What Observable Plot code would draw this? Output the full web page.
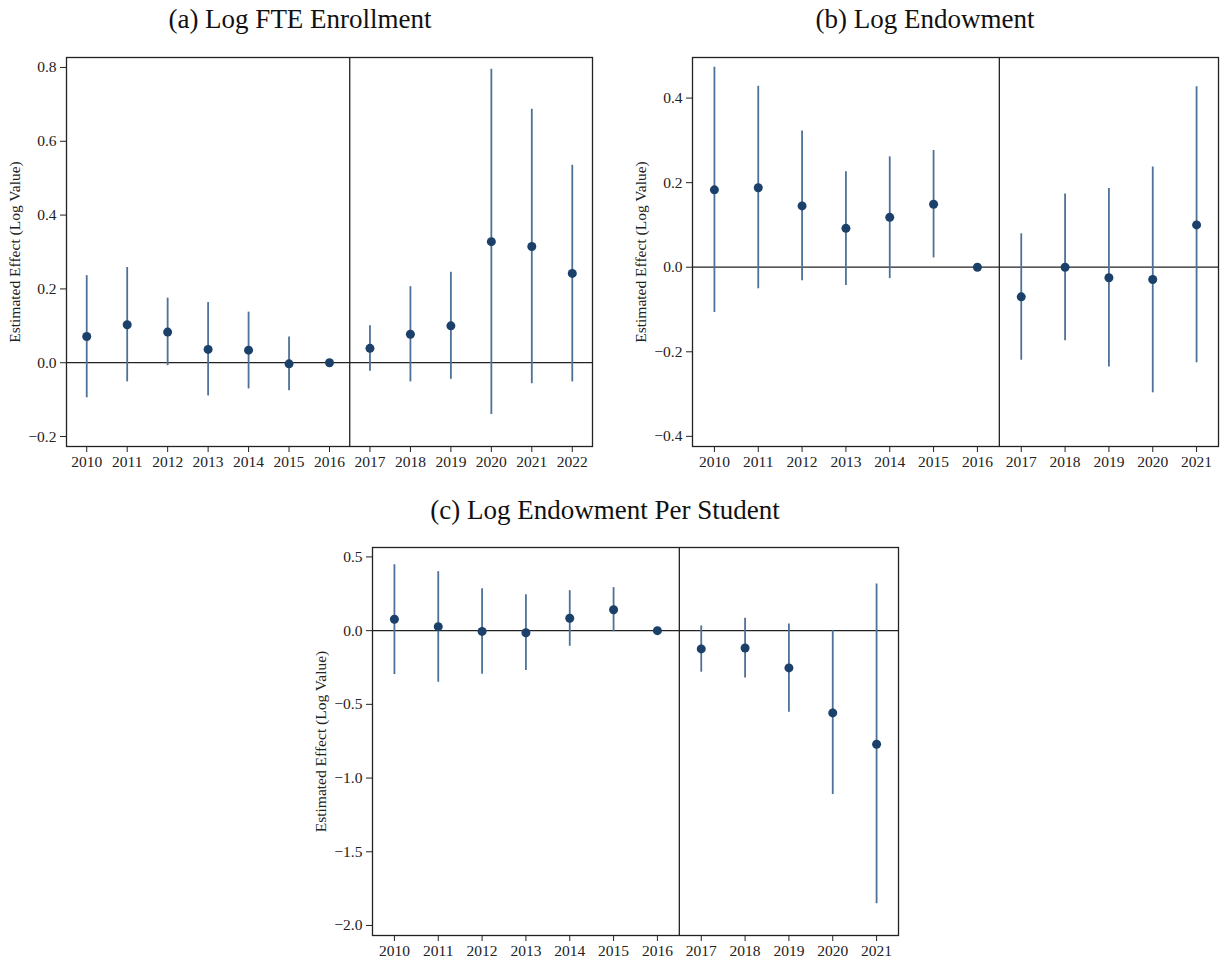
<!DOCTYPE html>
<html>
<head>
<meta charset="utf-8">
<script src="https://cdn.jsdelivr.net/npm/d3@7"></script>
<script src="https://cdn.jsdelivr.net/npm/@observablehq/plot@0.6"></script>
<style>
  html, body { margin: 0; padding: 0; background: #fff; }
  #root { position: relative; width: 1225px; height: 961px; font-family: "Liberation Serif", "Times New Roman", serif; }
  .panel { position: absolute; }
  .title { position: absolute; font-size: 27px; line-height: 27px; white-space: nowrap; color: #111; transform: translateX(-50%); }
</style>
</head>
<body>
<div id="root"></div>
<script>
// ---------- data ----------
const yLabel = "Estimated Effect (Log Value)";
const treatmentBoundary = 2016.5;

// (a) Log FTE Enrollment
const titleA = "(a) Log FTE Enrollment";
const yearsA = [2010, 2011, 2012, 2013, 2014, 2015, 2016, 2017, 2018, 2019, 2020, 2021, 2022];
const estA = [0.071, 0.103, 0.083, 0.036, 0.034, -0.003, 0.0, 0.039, 0.077, 0.100, 0.328, 0.315, 0.242];
const loA  = [-0.095, -0.052, -0.008, -0.090, -0.071, -0.076, 0.0, -0.023, -0.052, -0.045, -0.140, -0.057, -0.052];
const hiA  = [0.236, 0.258, 0.175, 0.163, 0.137, 0.070, 0.0, 0.100, 0.206, 0.245, 0.795, 0.687, 0.535];
const yTicksA = [-0.2, 0.0, 0.2, 0.4, 0.6, 0.8];

// (b) Log Endowment
const titleB = "(b) Log Endowment";
const yearsB = [2010, 2011, 2012, 2013, 2014, 2015, 2016, 2017, 2018, 2019, 2020, 2021];
const estB = [0.183, 0.188, 0.145, 0.092, 0.118, 0.149, 0.0, -0.070, 0.0, -0.025, -0.029, 0.100];
const loB  = [-0.107, -0.051, -0.032, -0.043, -0.027, 0.022, 0.0, -0.220, -0.174, -0.236, -0.297, -0.226];
const hiB  = [0.473, 0.428, 0.322, 0.226, 0.261, 0.276, 0.0, 0.079, 0.173, 0.186, 0.237, 0.427];
const yTicksB = [-0.4, -0.2, 0.0, 0.2, 0.4];

// (c) Log Endowment Per Student
const titleC = "(c) Log Endowment Per Student";
const yearsC = [2010, 2011, 2012, 2013, 2014, 2015, 2016, 2017, 2018, 2019, 2020, 2021];
const estC = [0.077, 0.027, -0.005, -0.014, 0.084, 0.142, 0.0, -0.124, -0.118, -0.253, -0.558, -0.771];
const loC  = [-0.298, -0.350, -0.296, -0.271, -0.106, -0.007, 0.0, -0.282, -0.321, -0.554, -1.112, -1.853];
const hiC  = [0.447, 0.400, 0.285, 0.244, 0.271, 0.292, 0.0, 0.032, 0.084, 0.045, 0.0, 0.316];
const yTicksC = [-2.0, -1.5, -1.0, -0.5, 0.0, 0.5];

// ---------- drawing ----------
const fmt1 = d => d3.format(".1f")(d).replace("-", "\u2212");
const barColor = "#4d7198";
const dotColor = "#1b416a";
const frameColor = "#222";

function panel({years, est, lo, hi, yTicks, yDomain, xDomain, width, height, margins}) {
  const data = years.map((y, i) => ({year: y, est: est[i], lo: lo[i], hi: hi[i]}));
  return Plot.plot({
    width, height,
    marginLeft: margins[0], marginRight: margins[1], marginTop: margins[2], marginBottom: margins[3],
    style: {fontFamily: "'Liberation Serif', 'Times New Roman', serif", fontSize: "15.5px", color: "#222", background: "#fff"},
    x: {domain: xDomain},
    y: {domain: yDomain},
    marks: [
      Plot.ruleY([0], {stroke: "#222", strokeWidth: 1.3}),
      Plot.ruleX([treatmentBoundary], {stroke: "#222", strokeWidth: 1.3}),
      Plot.ruleX(data, {x: "year", y1: "lo", y2: "hi", stroke: barColor, strokeWidth: 1.8}),
      Plot.dot(data, {x: "year", y: "est", r: 4.5, fill: dotColor, stroke: "none"}),
      Plot.axisX({ticks: years, tickFormat: d => String(d), tickSize: 6, tickPadding: 3, label: null, stroke: frameColor, fill: "#222"}),
      Plot.axisY({ticks: yTicks, tickFormat: fmt1, tickSize: 6, tickPadding: 4, label: null, stroke: frameColor, fill: "#222"}),
      Plot.text([yLabel], {frameAnchor: "left", rotate: -90, dx: -51, fontSize: 15.5, fill: "#222", textAnchor: "middle"}),
      Plot.frame({stroke: frameColor, strokeWidth: 1.3})
    ]
  });
}

const root = document.getElementById("root");
function place(el, left, top) {
  const wrap = document.createElement("div");
  wrap.className = "panel";
  wrap.style.left = left + "px";
  wrap.style.top = top + "px";
  wrap.appendChild(el);
  root.appendChild(wrap);
}
function title(text, cx, top) {
  const t = document.createElement("div");
  t.className = "title";
  t.textContent = text;
  t.style.left = cx + "px";
  t.style.top = top + "px";
  root.appendChild(t);
}

// Panel (a): frame x 66-592, y 57-446
place(panel({years: yearsA, est: estA, lo: loA, hi: hiA, yTicks: yTicksA,
  yDomain: [-0.227, 0.827], xDomain: [2009.5, 2022.5],
  width: 600, height: 475, margins: [66, 8, 57, 29]}), 0, 0);

// Panel (b): frame x 692-1218, y 57-446
place(panel({years: yearsB, est: estB, lo: loB, hi: hiB, yTicks: yTicksB,
  yDomain: [-0.424, 0.496], xDomain: [2009.5, 2021.5],
  width: 605, height: 475, margins: [72, 7, 57, 29]}), 620, 0);

// Panel (c): frame x 372-898, y 547-935
place(panel({years: yearsC, est: estC, lo: loC, hi: hiC, yTicks: yTicksC,
  yDomain: [-2.068, 0.564], xDomain: [2009.5, 2021.5],
  width: 610, height: 471, margins: [72, 12, 57, 26]}), 300, 490);

title(titleA, 300, 6);
title(titleB, 925, 6);
title(titleC, 605, 497);
</script>
</body>
</html>
